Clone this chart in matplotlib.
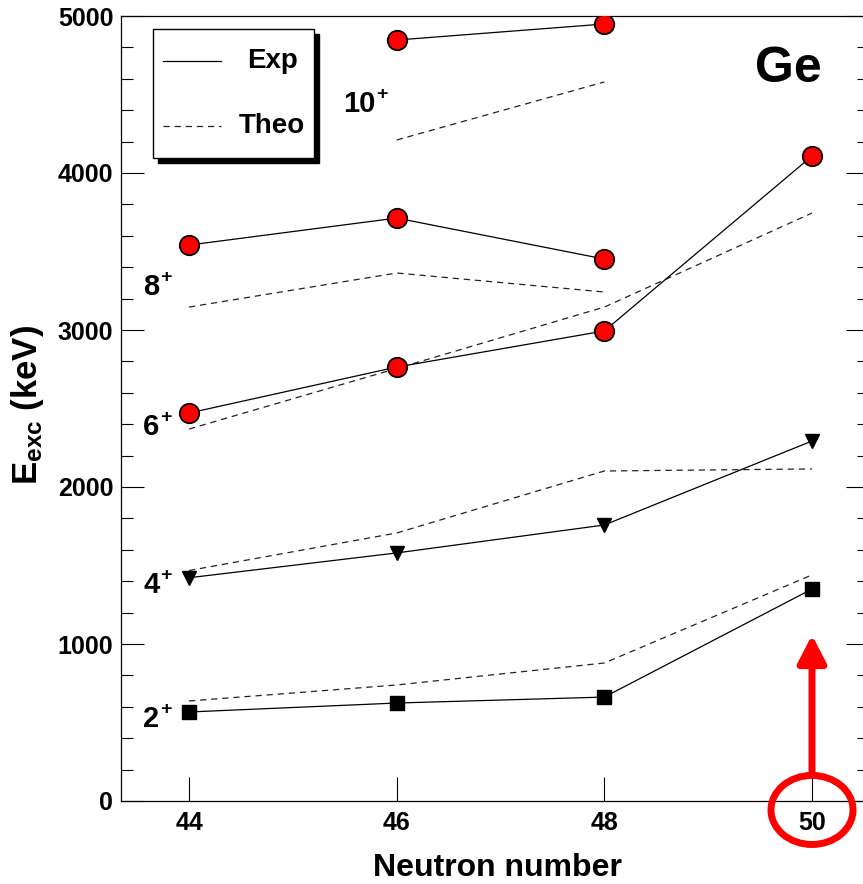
import matplotlib
matplotlib.use("Agg")
import matplotlib.pyplot as plt
from matplotlib.patches import Rectangle, Ellipse
from matplotlib.lines import Line2D
from matplotlib.ticker import MultipleLocator

plt.rcParams['font.family'] = ['Liberation Sans', 'DejaVu Sans']
plt.rcParams['font.weight'] = 'bold'
plt.rcParams['mathtext.fontset'] = 'custom'
plt.rcParams['mathtext.rm'] = 'Liberation Sans:bold'
plt.rcParams['mathtext.bf'] = 'Liberation Sans:bold'
plt.rcParams['mathtext.it'] = 'Liberation Sans:bold'
plt.rcParams['lines.scale_dashes'] = False

# ---- data ----
N = [44, 46, 48, 50]
exp_2 = [567, 624, 662, 1350]
theo_2 = [637, 739, 879, 1440]
exp_4 = [1422, 1580, 1758, 2293]
theo_4 = [1468, 1707, 2102, 2115]
exp_6 = [2471, 2764, 2994, 4108]
theo_6 = [2369, 2755, 3146, 3745]
N_8 = [44, 46, 48]
exp_8 = [3541, 3713, 3452]
theo_8 = [3146, 3363, 3242]
N_10 = [46, 48]
exp_10 = [4847, 4949]
theo_10 = [4210, 4580]

level_numbers = ['2', '4', '6', '8', '10']
level_label_x = [43.557, 43.557, 43.557, 43.557, 45.483]
level_label_y = [471, 1325, 2331, 3223, 4389]

x_ticks = [44, 46, 48, 50]
y_ticks = [0, 1000, 2000, 3000, 4000, 5000]

W, H = 863, 884
fig = plt.figure(figsize=(W / 100, H / 100), dpi=100)
left, right, top, bottom = 121, 869, 16, 801
aw, ah = right - left, bottom - top
ax = fig.add_axes([left / W, 1 - bottom / H, aw / W, ah / H])

ax.set_xlim(43.345, 50.549)
ax.set_ylim(0, 5000)

theo_kw = dict(color='#222222', lw=0.9, dashes=(4.5, 3.5))
exp_kw = dict(color='black', lw=0.9)

# theory
for xs, ys in [(N, theo_2), (N, theo_4), (N, theo_6), (N_8, theo_8), (N_10, theo_10)]:
    ax.plot(xs, ys, **theo_kw, zorder=2)

# experiment
ax.plot(N, exp_2, **exp_kw, marker='s', ms=9.5, mfc='black', mec='black', zorder=3)
ax.plot(N, exp_4, **exp_kw, marker='v', ms=10, mfc='black', mec='black', zorder=3)
circ = dict(marker='o', ms=14, mfc='red', mec='black', mew=1.3)
ax.plot(N, exp_6, **exp_kw, **circ, zorder=3)
ax.plot(N_8, exp_8, **exp_kw, **circ, zorder=3)
ax.plot(N_10, exp_10, **exp_kw, **circ, zorder=3)

# level labels (J^+)
for num, lx, ly in zip(level_numbers, level_label_x, level_label_y):
    t = ax.text(lx, ly, num, fontsize=21, fontweight='bold', ha='left', va='baseline')
    ax.annotate('+', xy=(1.0, 0.83), xycoords=t, xytext=(0.5, 0),
                textcoords='offset points', fontsize=14, fontweight='bold',
                ha='left', va='center')

ax.text((755 - left) / aw, (bottom - 82) / ah, 'Ge', transform=ax.transAxes, fontsize=36,
        fontweight='bold', ha='left', va='baseline')

# legend (manual, ROOT style)
lx0, lx1 = (153 - left) / aw, (314 - left) / aw
ly0, ly1 = (bottom - 158) / ah, (bottom - 29) / ah
sh_dx, sh_dy = 5 / aw, 5 / ah
ax.add_patch(Rectangle((lx0 + sh_dx, ly0 - sh_dy), lx1 - lx0, ly1 - ly0,
                       transform=ax.transAxes, facecolor='black', edgecolor='black', zorder=5))
ax.add_patch(Rectangle((lx0, ly0), lx1 - lx0, ly1 - ly0, transform=ax.transAxes,
                       facecolor='white', edgecolor='black', lw=1.0, zorder=6))
hx0, hx1 = (163 - left) / aw, (221 - left) / aw
y_exp, y_theo = (bottom - 61) / ah, (bottom - 126) / ah
ax.add_line(Line2D([hx0, hx1], [y_exp, y_exp], transform=ax.transAxes, zorder=7, **exp_kw))
ax.add_line(Line2D([hx0, hx1], [y_theo, y_theo], transform=ax.transAxes, zorder=7, **theo_kw))
ax.text((298 - left) / aw, y_exp, 'Exp', transform=ax.transAxes, fontsize=20,
        ha='right', va='center', zorder=7)
ax.text((305 - left) / aw, y_theo, 'Theo', transform=ax.transAxes, fontsize=20,
        ha='right', va='center', zorder=7)

# ticks
ax.set_xticks(x_ticks)
ax.set_xticklabels([str(v) for v in x_ticks])
ax.set_yticks(y_ticks)
ax.set_yticklabels([str(v) for v in y_ticks])
ax.yaxis.set_minor_locator(MultipleLocator(200))
ax.tick_params(axis='x', which='major', direction='in', length=17, width=0.8,
               labelsize=18, pad=7, top=False)
ax.tick_params(axis='x', which='minor', bottom=False, top=False)
ax.tick_params(axis='y', which='major', direction='in', length=16.5, width=0.8,
               labelsize=18, pad=5.5, left=True, right=True)
ax.tick_params(axis='y', which='minor', direction='in', length=8.5, width=0.8,
               left=True, right=True)
for lbl in ax.get_xticklabels() + ax.get_yticklabels():
    lbl.set_fontweight('bold')
for sp in ax.spines.values():
    sp.set_linewidth(0.9)

ax.set_xlabel('Neutron number', fontsize=23, fontweight='bold')
ax.xaxis.set_label_coords((497 - left) / aw, -(853 - bottom) / ah)
ax.set_ylabel(r'$\mathbf{E_{exc}}$ (keV)', fontsize=25, fontweight='bold')
ax.yaxis.set_label_coords((46 - left) / aw, (bottom - 405) / ah)

# red highlight annotation
ax.annotate('', xy=(50, 1057), xytext=(50, 185),
            arrowprops=dict(arrowstyle='-|>,head_length=0.83,head_width=0.43',
                            color='red', lw=5, mutation_scale=20, shrinkA=0, shrinkB=0),
            annotation_clip=False, zorder=8)
ax.add_patch(Ellipse((50, -57), 0.79, 440, fill=False, edgecolor='red', lw=5,
                     clip_on=False, zorder=8))

fig.savefig('out.png', dpi=100)
